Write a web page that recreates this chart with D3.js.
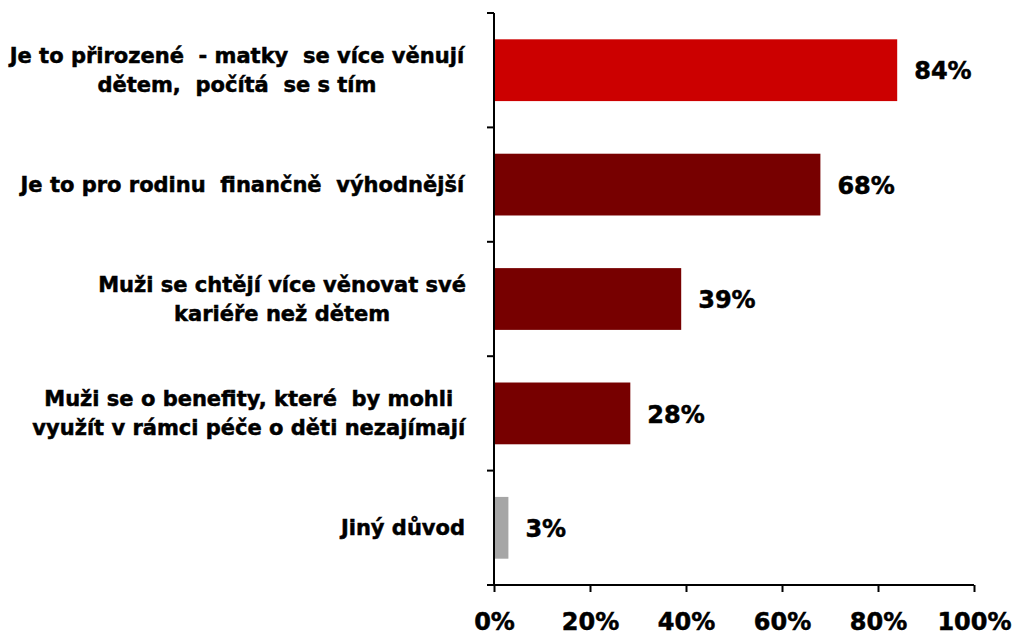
<!DOCTYPE html>
<html>
<head>
<meta charset="utf-8">
<script src="https://cdn.jsdelivr.net/npm/d3@7"></script>
<style>
  body { margin: 0; background: #fff; }
  text { font-family: "DejaVu Sans", Verdana, sans-serif; font-weight: bold; fill: #000; white-space: pre;
         stroke: #000; stroke-width: 0.5px; }
</style>
</head>
<body>
<div id="chart"></div>
<script>
var width = 1017, height = 635;

// data
const categories = [
  ["Je to přirozené  - matky  se více věnují", "dětem,  počítá  se s tím"],
  ["Je to pro rodinu  finančně  výhodnější"],
  ["Muži se chtějí více věnovat své", "kariéře než dětem"],
  ["Muži se o benefity, které  by mohli", "využít v rámci péče o děti nezajímají"],
  ["Jiný důvod"]
];
const values = [84, 68, 39, 28.4, 3];
const barColors = ["#CC0000", "#770000", "#770000", "#770000", "#A6A6A6"];
const tickValues = [0, 20, 40, 60, 80, 100];

const margin = {top: 13, left: 494, right: 43, bottom: 50};

const svg = d3.select("#chart").append("svg")
    .attr("width", width)
    .attr("height", height);

const x = d3.scaleLinear()
    .domain([0, 100])
    .range([margin.left, width - margin.right]);

const y = d3.scaleBand()
    .domain(d3.range(categories.length))
    .range([margin.top, height - margin.bottom])
    .paddingInner(0.46)
    .paddingOuter(0.23);

// bars
svg.append("g").selectAll("rect")
    .data(values)
    .join("rect")
    .attr("x", x(0))
    .attr("y", (d, i) => y(i))
    .attr("width", d => x(d) - x(0))
    .attr("height", y.bandwidth())
    .attr("fill", (d, i) => barColors[i]);

// value labels
svg.append("g").selectAll("text")
    .data(values)
    .join("text")
    .attr("x", d => x(d) + 17)
    .attr("y", (d, i) => y(i) + y.bandwidth() / 2)
    .attr("dy", "0.38em")
    .style("font-size", "24px")
    .text(d => Math.round(d) + "%");

// category labels, centred lines, block right aligned
var step = (height - margin.bottom - margin.top) / categories.length;
var labels = svg.append("g");
categories.forEach(function(lines, i) {
  var cy = margin.top + step * (i + 0.5);
  var t = labels.append("text")
      .style("font-size", "21px")
      .attr("text-anchor", "middle");
  lines.forEach(function(line, j) {
    t.append("tspan")
        .attr("x", 0)
        .attr("y", cy + (j - (lines.length - 1) / 2) * 29)
        .attr("dy", "0.36em")
        .text(line);
  });
  var w = t.node().getBBox().width;
  t.attr("transform", "translate(" + (466 - w / 2) + ",0)");
});

// y axis line with ticks between categories
var yAxis = svg.append("g").attr("stroke", "#000").attr("stroke-width", 2);
yAxis.append("line")
    .attr("x1", x(0)).attr("x2", x(0))
    .attr("y1", margin.top).attr("y2", height - margin.bottom);
yAxis.selectAll(".tk")
    .data(d3.range(categories.length + 1))
    .join("line")
    .attr("class", "tk")
    .attr("x1", x(0) - 7).attr("x2", x(0))
    .attr("y1", d => margin.top + step * d)
    .attr("y2", d => margin.top + step * d);

// x axis
const xAxis = svg.append("g")
    .attr("transform", "translate(0," + (height - margin.bottom) + ")")
    .call(d3.axisBottom(x).tickValues(tickValues).tickSize(7).tickPadding(21).tickFormat(d => d + "%"));
xAxis.selectAll("line, path").attr("stroke", "#000").attr("stroke-width", 2);
xAxis.select(".domain").attr("d", "M" + x(0) + ",0H" + x(100));
xAxis.selectAll("text")
    .style("font-size", "24px")
    .style("font-family", "'DejaVu Sans', Verdana, sans-serif")
    .attr("fill", "#000");
</script>
</body>
</html>
